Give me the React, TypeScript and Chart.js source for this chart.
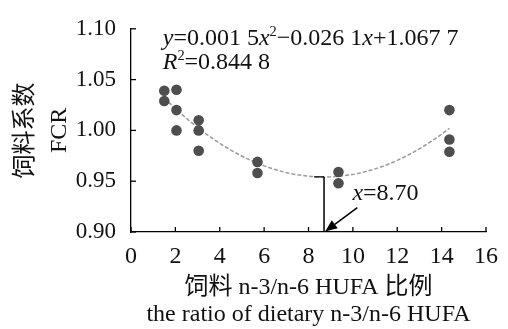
import React, { useEffect, useRef } from 'react';
import { Chart, registerables } from 'chart.js';

Chart.register(...registerables);

// ---- data ----
const ratioX = [1.5, 1.5, 2.05, 2.05, 2.05, 3.05, 3.05, 3.05, 5.7, 5.7, 9.35, 9.35, 14.35, 14.35, 14.35];
const fcrY = [1.039, 1.029, 1.04, 1.02, 1.0, 1.01, 1.0, 0.98, 0.969, 0.958, 0.959, 0.948, 1.02, 0.991, 0.979];
const xTicks = [0, 2, 4, 6, 8, 10, 12, 14, 16];
const yTicks = [0.9, 0.95, 1.0, 1.05, 1.1];
const fitCoef = [0.0015, -0.0261, 1.0677]; // y = a x^2 + b x + c (printed on chart)
const fitRange = [1.5, 14.35];
const optimumX = 8.7;
const eqLine1 = [
  { t: 'y', it: true }, { t: '=0.001 5' }, { t: 'x', it: true }, { t: '2', sup: true },
  { t: '\u22120.026 1' }, { t: 'x', it: true }, { t: '+1.067 7' },
];
const eqLine2 = [{ t: 'R', it: true }, { t: '2', sup: true }, { t: '=0.844 8' }];
const optLabel = [{ t: 'x', it: true }, { t: '=8.70' }];
const xTitle = ['饲料 n-3/n-6 HUFA 比例', 'the ratio of dietary n-3/n-6 HUFA'];
const yTitle = ['饲料系数', 'FCR'];

const FONT = '"Liberation Serif", "Times New Roman", "Noto Sans CJK SC", serif';

const fitY = (x: number) => fitCoef[0] * x * x + fitCoef[1] * x + fitCoef[2];

function drawRich(ctx: CanvasRenderingContext2D, segs: any[], x: number, y: number, size: number) {
  let cx = x;
  for (const s of segs) {
    const fs = s.sup ? size * 0.6 : size;
    ctx.font = `${s.it ? 'italic ' : ''}${fs}px ${FONT}`;
    const dy = s.sup ? -size * 0.28 : 0;
    ctx.fillText(s.t, cx, y + dy);
    cx += ctx.measureText(s.t).width;
  }
}

const annotPlugin = {
  id: 'annot',
  afterDatasetsDraw(chart: any) {
    const { ctx, chartArea, scales } = chart;
    const xs = scales.x;
    const ys = scales.y;
    ctx.save();
    ctx.strokeStyle = '#000';
    ctx.lineWidth = 1.3;
    // inward tick marks
    xs.ticks.forEach((t: any) => {
      const px = xs.getPixelForValue(t.value);
      ctx.beginPath();
      ctx.moveTo(px, chartArea.bottom);
      ctx.lineTo(px, chartArea.bottom - 5);
      ctx.stroke();
    });
    ys.ticks.forEach((t: any) => {
      const py = ys.getPixelForValue(t.value);
      ctx.beginPath();
      ctx.moveTo(chartArea.left, py);
      ctx.lineTo(chartArea.left + 5, py);
      ctx.stroke();
    });
    // arrow pointing to the optimum
    const tx = xs.getPixelForValue(10.2);
    const ty = ys.getPixelForValue(0.924);
    const hx = xs.getPixelForValue(optimumX + 0.05);
    const hy = ys.getPixelForValue(0.9005);
    const ang = Math.atan2(hy - ty, hx - tx);
    const L = 12, W = 5;
    const bx = hx - L * Math.cos(ang), by = hy - L * Math.sin(ang);
    ctx.lineWidth = 1.5;
    ctx.beginPath();
    ctx.moveTo(tx, ty);
    ctx.lineTo(bx, by);
    ctx.stroke();
    ctx.fillStyle = '#000';
    ctx.beginPath();
    ctx.moveTo(hx, hy);
    ctx.lineTo(bx + W * Math.sin(ang), by - W * Math.cos(ang));
    ctx.lineTo(bx - W * Math.sin(ang), by + W * Math.cos(ang));
    ctx.closePath();
    ctx.fill();
    // texts
    ctx.fillStyle = '#111';
    ctx.textBaseline = 'middle';
    ctx.textAlign = 'left';
    drawRich(ctx, eqLine1, xs.getPixelForValue(1.43), ys.getPixelForValue(1.0904), 24);
    drawRich(ctx, eqLine2, xs.getPixelForValue(1.43), ys.getPixelForValue(1.0663), 24);
    drawRich(ctx, optLabel, xs.getPixelForValue(9.98), ys.getPixelForValue(0.938), 24);
    ctx.restore();
  },
};

export default function App() {
  const ref = useRef<HTMLCanvasElement | null>(null);
  useEffect(() => {
    if (!ref.current) return;
    const curve: { x: number; y: number }[] = [];
    const n = 60;
    for (let i = 0; i <= n; i++) {
      const x = fitRange[0] + ((fitRange[1] - fitRange[0]) * i) / n;
      curve.push({ x, y: fitY(x) });
    }
    const yOpt = fitY(optimumX);
    const chart = new Chart(ref.current, {
      type: 'scatter',
      data: {
        datasets: [
          {
            data: ratioX.map((x, i) => ({ x, y: fcrY[i] })),
            backgroundColor: '#4e4e4e',
            borderColor: '#4e4e4e',
            borderWidth: 0,
            pointRadius: 5.3,
          },
          {
            data: [{ x: optimumX, y: yTicks[0] }, { x: optimumX, y: yOpt }],
            showLine: true,
            borderColor: '#000',
            borderWidth: 1.5,
            pointRadius: 0,
          },
          {
            data: [{ x: optimumX - 0.45, y: yOpt }, { x: optimumX, y: yOpt }],
            showLine: true,
            borderColor: '#000',
            borderWidth: 1.3,
            pointRadius: 0,
          },
          {
            data: curve,
            showLine: true,
            borderColor: '#9a9a9a',
            borderWidth: 1.5,
            borderDash: [4, 2],
            pointRadius: 0,
          },
        ],
      },
      options: {
        animation: false,
        responsive: true,
        maintainAspectRatio: false,
        layout: { padding: { left: 0, right: 18, top: 24, bottom: 0 } },
        plugins: { legend: { display: false }, tooltip: { enabled: false } },
        scales: {
          x: {
            type: 'linear',
            min: 0,
            max: 16,
            afterBuildTicks: (s: any) => { s.ticks = xTicks.map((v) => ({ value: v })); },
            afterFit: (s: any) => { s.height = 97; },
            grid: { display: true, drawOnChartArea: false, drawTicks: false },
            border: { display: true, color: '#000', width: 1.3 },
            ticks: {
              padding: 10,
              color: '#111',
              font: { family: FONT, size: 24 },
              maxRotation: 0,
              callback: (v: any) => String(v),
            },
            title: {
              display: true,
              text: xTitle,
              color: '#111',
              font: { family: FONT, size: 24, lineHeight: 1.15 },
              padding: { top: 0, bottom: 0 },
            },
          },
          y: {
            type: 'linear',
            min: 0.9,
            max: 1.1,
            afterBuildTicks: (s: any) => { s.ticks = yTicks.map((v) => ({ value: v })); },
            afterFit: (s: any) => { s.width = 131; },
            grid: { display: true, drawOnChartArea: false, drawTicks: false },
            border: { display: true, color: '#000', width: 1.3 },
            ticks: {
              padding: 15,
              color: '#111',
              font: { family: FONT, size: 23 },
              callback: (v: any) => Number(v).toFixed(2),
            },
            title: {
              display: true,
              text: yTitle,
              color: '#111',
              font: { family: FONT, size: 24, lineHeight: 1.45 },
              padding: { top: 8, bottom: 0 },
            },
          },
        },
      },
      plugins: [annotPlugin],
    } as any);
    return () => chart.destroy();
  }, []);
  return (
    <div style={{ position: 'absolute', left: 0, top: 0, width: 508, height: 329, background: '#fff' }}>
      <canvas ref={ref} />
    </div>
  );
}
